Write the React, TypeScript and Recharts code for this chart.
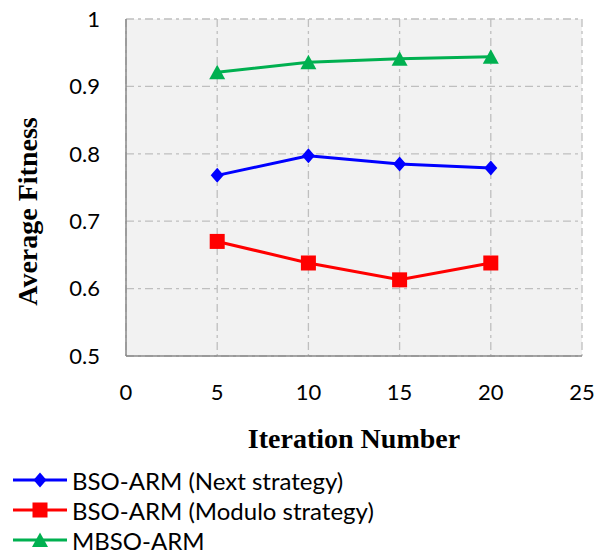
import React from 'react';
import { LineChart, Line, XAxis, YAxis, CartesianGrid, Legend } from 'recharts';

const iterations = [5, 10, 15, 20];
const nextStrategy = [0.768, 0.797, 0.785, 0.779];
const moduloStrategy = [0.67, 0.638, 0.613, 0.638];
const mbsoArm = [0.921, 0.936, 0.941, 0.944];
const xTicks = [0, 5, 10, 15, 20, 25];
const yTicks = [0.5, 0.6, 0.7, 0.8, 0.9, 1];
const seriesNames = ['BSO-ARM (Next strategy)', 'BSO-ARM (Modulo strategy)', 'MBSO-ARM'];

const data = iterations.map((it, i) => ({
  it,
  next: nextStrategy[i],
  modulo: moduloStrategy[i],
  mbso: mbsoArm[i],
}));

const BLUE = '#0000ff';
const RED = '#ff0000';
const GREEN = '#00b050';

const Diamond = ({ cx, cy, color }: any) => (
  <polygon points={`${cx},${cy - 7.5} ${cx + 6.5},${cy} ${cx},${cy + 7.5} ${cx - 6.5},${cy}`} fill={color} />
);
const Square = ({ cx, cy, color }: any) => (
  <rect x={cx - 7.5} y={cy - 7.5} width={15} height={15} fill={color} />
);
const Triangle = ({ cx, cy, color }: any) => (
  <polygon points={`${cx},${cy - 7.5} ${cx + 8},${cy + 7} ${cx - 8},${cy + 7}`} fill={color} />
);

const legendItems = [
  { name: seriesNames[0], color: BLUE, Shape: Diamond },
  { name: seriesNames[1], color: RED, Shape: Square },
  { name: seriesNames[2], color: GREEN, Shape: Triangle },
];

const LegendContent = () => (
  <div style={{ fontFamily: 'Lato', fontSize: 24, color: '#000' }}>
    {legendItems.map((item) => (
      <div key={item.name} style={{ display: 'flex', alignItems: 'center', height: 30 }}>
        <svg width={70} height={30} style={{ flex: 'none' }}>
          <line x1={13} y1={15} x2={67} y2={15} stroke={item.color} strokeWidth={3} />
          <item.Shape cx={40} cy={15} color={item.color} />
        </svg>
        <span style={{ marginLeft: 2, whiteSpace: 'nowrap' }}>{item.name}</span>
      </div>
    ))}
  </div>
);

const YTitle = ({ viewBox }: any) => {
  const cx = 37;
  const cy = viewBox.y + viewBox.height / 2 + 24;
  return (
    <text
      x={cx}
      y={cy}
      transform={`rotate(-90 ${cx} ${cy})`}
      textAnchor="middle"
      fontFamily="Liberation Serif"
      fontWeight="bold"
      fontSize={28}
      fill="#000"
    >
      Average Fitness
    </text>
  );
};

const XTitle = ({ viewBox }: any) => (
  <text
    x={viewBox.x + viewBox.width / 2}
    y={448}
    textAnchor="middle"
    fontFamily="Liberation Serif"
    fontWeight="bold"
    fontSize={28}
    fill="#000"
  >
    Iteration Number
  </text>
);

export default function App() {
  return (
    <div style={{ position: 'absolute', left: 0, top: 0, background: '#fff' }}>
      <LineChart width={603} height={554} data={data} margin={{ top: 19, right: 21, left: 66, bottom: 138 }}>
        <CartesianGrid
          fill="#f2f2f2"
          stroke="#bfbfbf"
          strokeWidth={1.3}
          strokeDasharray="8 4 3 4"
          horizontalValues={yTicks}
          verticalValues={xTicks}
        />
        <XAxis
          dataKey="it"
          type="number"
          domain={[0, 25]}
          ticks={xTicks}
          height={60}
          tickSize={0}
          tickMargin={28}
          tickLine={false}
          axisLine={{ stroke: '#898989', strokeWidth: 1.5 }}
          tick={{ fontFamily: 'Lato', fontSize: 22, fill: '#000' }}
          label={<XTitle />}
        />
        <YAxis
          type="number"
          domain={[0.5, 1]}
          ticks={yTicks}
          width={60}
          tickSize={0}
          tickMargin={26}
          tickLine={false}
          axisLine={{ stroke: '#898989', strokeWidth: 1.5 }}
          tickFormatter={(v: number) => String(v)}
          tick={{ fontFamily: 'Lato', fontSize: 22, fill: '#000' }}
          label={<YTitle />}
        />
        <Legend
          layout="horizontal"
          verticalAlign="middle"
          align="center"
          wrapperStyle={{ left: 0, top: 465, width: 440 }}
          content={<LegendContent />}
        />
        <Line
          dataKey="next"
          name={seriesNames[0]}
          stroke={BLUE}
          strokeWidth={3}
          isAnimationActive={false}
          dot={(p: any) => <Diamond key={p.index} cx={p.cx} cy={p.cy} color={BLUE} />}
          activeDot={false}
        />
        <Line
          dataKey="modulo"
          name={seriesNames[1]}
          stroke={RED}
          strokeWidth={3}
          isAnimationActive={false}
          dot={(p: any) => <Square key={p.index} cx={p.cx} cy={p.cy} color={RED} />}
          activeDot={false}
        />
        <Line
          dataKey="mbso"
          name={seriesNames[2]}
          stroke={GREEN}
          strokeWidth={3}
          isAnimationActive={false}
          dot={(p: any) => <Triangle key={p.index} cx={p.cx} cy={p.cy} color={GREEN} />}
          activeDot={false}
        />
      </LineChart>
    </div>
  );
}
